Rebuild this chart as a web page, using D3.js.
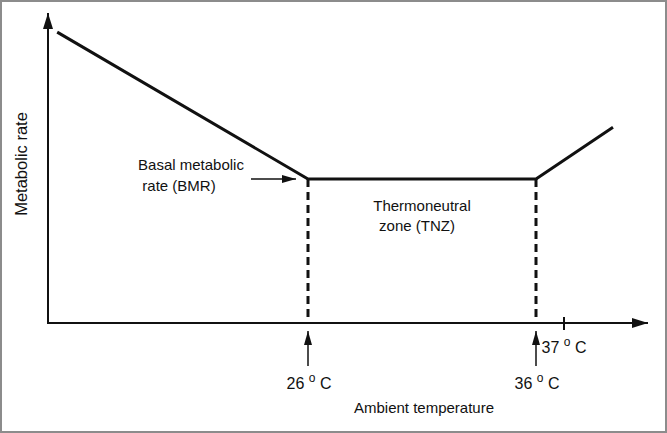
<!DOCTYPE html>
<html>
<head>
<meta charset="utf-8">
<script src="https://cdn.jsdelivr.net/npm/d3@7"></script>
<style>
  html, body { margin: 0; padding: 0; background: #fff; }
  svg { display: block; font-family: "Liberation Sans", Arial, sans-serif; }
</style>
</head>
<body>
<div id="chart"></div>
<script>
// temperatures (deg C) along the curve, and metabolic rate relative to BMR
const temps = [15, 26, 36, 38.75];
const rates = [2.02, 1, 1, 1.36];
const markTemps = [26, 36];
const tickTemps = [37];
const xTitle = "Ambient temperature";
const yTitle = "Metabolic rate";

const width = 667, height = 433;
const fs = 15;
const svg = d3.select("#chart").append("svg")
  .attr("width", width).attr("height", height);

svg.append("rect")
  .attr("x", 1).attr("y", 1).attr("width", width - 2).attr("height", height - 2)
  .attr("fill", "#fff").attr("stroke", "#8c8c8c").attr("stroke-width", 2);

const x = d3.scaleLinear().domain([26, 36, 37]).range([308, 536, 564]);
const y = d3.scaleLinear().domain([0, 1]).range([323, 179]);
const x0 = 48, y0 = y(0);

const defs = svg.append("defs");
defs.append("marker").attr("id", "head")
  .attr("viewBox", "0 0 14 8").attr("refX", 14).attr("refY", 4)
  .attr("markerWidth", 14).attr("markerHeight", 8)
  .attr("markerUnits", "userSpaceOnUse").attr("orient", "auto")
  .append("path").attr("d", "M0,0L14,4L0,8Z").attr("fill", "#111");
defs.append("marker").attr("id", "bighead")
  .attr("viewBox", "0 0 16 10").attr("refX", 16).attr("refY", 5)
  .attr("markerWidth", 16).attr("markerHeight", 10)
  .attr("markerUnits", "userSpaceOnUse").attr("orient", "auto")
  .append("path").attr("d", "M0,0L16,5L0,10Z").attr("fill", "#111");

// axes
svg.append("line").attr("x1", x0).attr("y1", y0).attr("x2", x0).attr("y2", 13)
  .attr("stroke", "#111").attr("stroke-width", 2).attr("marker-end", "url(#bighead)");
svg.append("line").attr("x1", x0 - 1).attr("y1", y0).attr("x2", 648).attr("y2", y0)
  .attr("stroke", "#111").attr("stroke-width", 2).attr("marker-end", "url(#bighead)");

// 37 tick
svg.selectAll(".tick37").data(tickTemps).enter().append("line")
  .attr("x1", d => x(d)).attr("x2", d => x(d))
  .attr("y1", y0 - 6).attr("y2", y0 + 7)
  .attr("stroke", "#111").attr("stroke-width", 2);

// dashed verticals
svg.selectAll(".dash").data(markTemps).enter().append("line")
  .attr("x1", d => x(d)).attr("x2", d => x(d))
  .attr("y1", y(1)).attr("y2", y0)
  .attr("stroke", "#111").attr("stroke-width", 3)
  .attr("stroke-dasharray", "8,5");

// curve
const line = d3.line().x(d => x(d[0])).y(d => y(d[1]));
svg.append("path").datum(temps.map((t, i) => [t, rates[i]]))
  .attr("d", line).attr("fill", "none")
  .attr("stroke", "#111").attr("stroke-width", 3).attr("stroke-linejoin", "miter");

// up arrows under axis
svg.selectAll(".uparrow").data(markTemps).enter().append("line")
  .attr("x1", d => x(d)).attr("x2", d => x(d))
  .attr("y1", 366).attr("y2", y0 + 8)
  .attr("stroke", "#111").attr("stroke-width", 1.5).attr("marker-end", "url(#head)");

function degLabel(tx, ty, num) {
  const t = svg.append("text").attr("x", tx).attr("y", ty)
    .attr("font-size", 16).attr("fill", "#111").attr("text-anchor", "middle");
  t.append("tspan").text(num + " ");
  t.append("tspan").attr("dy", -7).attr("font-size", 12).text("o");
  t.append("tspan").attr("dy", 7).text(" C");
}
markTemps.forEach(d => degLabel(x(d) + 1, 389, d));
tickTemps.forEach(d => degLabel(x(d), 353, d));

// BMR label + arrow
svg.append("line").attr("x1", 251).attr("y1", y(1)).attr("x2", 296).attr("y2", y(1))
  .attr("stroke", "#111").attr("stroke-width", 1.5).attr("marker-end", "url(#head)");
svg.append("text").attr("x", 191).attr("y", 170).attr("text-anchor", "middle")
  .attr("font-size", fs).attr("fill", "#111").text("Basal metabolic");
svg.append("text").attr("x", 179).attr("y", 191).attr("text-anchor", "middle")
  .attr("font-size", fs).attr("fill", "#111").text("rate (BMR)");

// TNZ label
svg.append("text").attr("x", 422).attr("y", 211).attr("text-anchor", "middle")
  .attr("font-size", fs).attr("fill", "#111").text("Thermoneutral");
svg.append("text").attr("x", 417).attr("y", 231).attr("text-anchor", "middle")
  .attr("font-size", fs).attr("fill", "#111").text("zone (TNZ)");

// axis titles
svg.append("text").attr("x", 424).attr("y", 413).attr("text-anchor", "middle")
  .attr("font-size", fs).attr("fill", "#111").text(xTitle);
svg.append("text").attr("transform", "translate(27,164) rotate(-90)")
  .attr("text-anchor", "middle").attr("font-size", 16.5).attr("fill", "#111").text(yTitle);
</script>
</body>
</html>
